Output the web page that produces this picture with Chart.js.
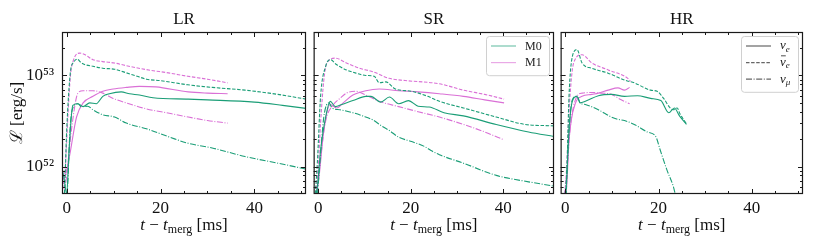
<!DOCTYPE html>
<html>
<head>
<meta charset="utf-8">
<script src="https://cdn.jsdelivr.net/npm/chart.js@4.4.0/dist/chart.umd.min.js"></script>
<style>
body { margin: 0; background: #fff; }
#wrap { position: relative; width: 814px; height: 245px; }
canvas { position: absolute; top: 0; }
</style>
</head>
<body>
<div id="wrap">
  <canvas id="cLR" width="310" height="245" style="left:0px"></canvas>
  <canvas id="cSR" width="247" height="245" style="left:310px"></canvas>
  <canvas id="cHR" width="257" height="245" style="left:557px"></canvas>
</div>
<script>
// luminosities in units of 1e52 erg/s, [t - t_merg (ms), L]
var LR_M0_nue  = [[-1,1.0],[-0.5,0.7],[0,0.5],[0.5,1.5],[1.3,4.7],[2.4,4.9],[3.5,4.55],[4.9,5.0],[6.3,4.9],[7.7,5.9],[9.1,6.3],[11.6,6.6],[13.4,6.3],[15.5,6.1],[18.4,5.7],[25.9,5.5],[30,5.4],[40,5.1],[46,4.7],[51,4.35]];
var LR_M0_anue = [[-1,0.4],[-0.5,0.5],[0,2.5],[0.8,11],[1.5,14],[2.2,15.1],[3.1,13.8],[4,13.1],[5.6,12.6],[7.7,12],[10.2,11.7],[12.7,10.7],[15,9.8],[17,9.1],[19.8,8.8],[25.8,7.9],[31,7.4],[38,6.9],[45,6.2],[51,5.5]];
var LR_M0_numu = [[-0.5,0.3],[0.2,0.6],[0.7,2.5],[1.3,4.4],[2.4,4.9],[3.1,4.55],[4.5,4.6],[5.6,4.2],[7.7,3.7],[10.2,3.5],[12.7,3.0],[17,2.6],[22,2.1],[25.9,1.8],[31,1.6],[38,1.29],[45,1.09],[51,0.94]];
var LR_M1_nue  = [[-1,0.7],[-0.3,0.8],[0.6,1.3],[2.1,3.5],[3.5,5.0],[5.6,5.9],[7.7,6.7],[9.9,7.1],[12.7,7.4],[15.5,7.6],[19,7.5],[25.9,6.6],[30,6.4],[34.3,6.3]];
var LR_M1_anue = [[-1,0.5],[-0.3,1.0],[0.3,4],[0.8,10],[1.5,15],[2.8,17.6],[3.8,17],[5.6,14.9],[7.7,14.2],[10.2,13.7],[12.7,12.8],[17,11.6],[22,10.6],[25.8,9.8],[30,9.1],[34.3,8.3]];
var LR_M1_numu = [[-0.8,0.4],[0,0.8],[1,2.5],[2.4,6.4],[3.5,6.8],[5.6,6.8],[7.7,6.4],[9.9,5.6],[12.7,5.0],[17,4.3],[21.2,3.9],[25.9,3.5],[30,3.2],[34.3,3.0]];

var SR_M0_nue  = [[-1,0.4],[-0.2,0.6],[0.5,1.5],[1.6,3.5],[2.6,5.2],[3.7,4.55],[5.1,4.8],[7.5,5.3],[10.3,5.9],[11.4,5.9],[13.5,5.1],[15.4,5.8],[17.4,4.9],[19.5,5.3],[21.6,4.6],[24,4.5],[27.2,3.9],[31.4,3.6],[38.5,2.9],[45.5,2.4],[51,2.14]];
var SR_M0_anue = [[-1,0.3],[-0.2,1.1],[0.5,5.9],[1.6,12.6],[2.6,14.9],[4,13.1],[6.1,11.5],[8.2,10.6],[10.3,10],[12.1,9.8],[13.2,8.3],[14.6,8.5],[16.7,7.1],[20.2,6.7],[23.7,5.9],[26.2,5.2],[31.4,4.4],[38.5,3.5],[44.8,2.9],[51,2.8]];
var SR_M0_numu = [[-0.5,0.3],[0.3,1.0],[1.2,3.5],[2.3,5.0],[3,4.4],[4.7,4.2],[7.5,3.9],[9.6,3.6],[11.8,3.25],[13.9,2.75],[15.3,2.5],[17.4,2.1],[20.2,1.88],[23,1.66],[24.4,1.5],[26.2,1.35],[31.4,1.09],[38.5,0.8],[45.5,0.68],[51,0.61]];
var SR_M1_nue  = [[-1,0.3],[0.2,0.8],[1.2,2.5],[2.6,4.8],[4,4.4],[5.4,5.0],[7.5,6.1],[10.3,6.8],[13.2,7.1],[17.4,6.8],[21.6,6.6],[26.2,6.3],[31.4,5.9],[36,5.4],[40.2,5.0]];
var SR_M1_anue = [[-1,0.3],[0,1],[0.5,3.0],[1.2,8.9],[1.9,13.8],[3.7,15.5],[6.1,13.7],[8.9,12],[11.8,11],[15.3,9.3],[18.8,8.8],[26.2,8.1],[31.4,6.9],[36,6.2],[40.2,5.5]];
var SR_M1_numu = [[-0.8,0.3],[0.3,1.0],[1.5,3.0],[3.3,4.8],[4.7,5.6],[6.1,6.4],[8.2,6.7],[10.3,6.1],[13.2,5.2],[17.4,4.55],[21.6,4.0],[26.2,3.5],[31.4,2.9],[36,2.4],[40.2,1.96]];

var HR_M0_nue  = [[-0.5,0.3],[0.2,0.6],[0.8,2.5],[1.5,5.2],[2.5,5.9],[3.2,5.0],[4.3,5.2],[7.1,6.0],[9.9,6.2],[12.7,5.9],[15.5,6.0],[18.3,5.6],[20.5,5.3],[22.2,3.9],[23.4,4.4],[24.5,3.6],[26,2.9]];
var HR_M0_anue = [[-0.5,0.3],[0.2,0.5],[0.4,1.1],[0.8,5.9],[1.5,16],[2.5,19.2],[3.6,13.7],[5.7,12],[9.2,10.6],[12.7,8.9],[14.8,8.3],[18.3,6.9],[19.7,6.7],[21.1,5.6],[22.5,4.4],[23.2,4.2],[24,4.4],[24.6,3.8],[25.7,3.1],[26,2.95]];
var HR_M0_numu = [[-0.5,0.3],[0.3,0.8],[0.8,2.5],[1.5,5.4],[2.5,5.9],[3.2,5.0],[4.3,4.8],[7.1,4.2],[9.9,3.5],[11.3,3.3],[12.7,3.2],[14.8,2.9],[17.6,2.4],[19.4,2.14],[20.4,1.5],[21.8,0.92],[23.2,0.6],[23.8,0.45]];
var HR_M1_nue  = [[-0.5,0.3],[0.3,0.6],[0.8,1.95],[2.2,5.0],[3.6,5.9],[5.7,6.2],[7.1,6.4],[9.2,6.9],[11.3,7.3],[12.7,6.9],[13.8,7.4]];
var HR_M1_anue = [[-0.5,0.3],[0.3,1.0],[0.8,4],[1.8,13.8],[3.6,16.9],[5.7,13.7],[9.2,11.5],[13.4,9.3],[14,8.6]];
var HR_M1_numu = [[-0.5,0.3],[0.3,0.8],[1,2.5],[2.5,5.9],[3.6,6.4],[5.7,6.5],[7.8,6.4],[9.9,6.2],[12,5.4],[13.8,4.9]];

var xMajor = [0, 20, 40];
var yMajor = [1, 10];
var yLabels = {1: '10\u2075\u00b2', 10: '10\u2075\u00b3'};
var models = ['M0', 'M1'];
var species = ['\u03bd_e', '\u0304\u03bd_e', '\u03bd_\u03bc'];

var FONT = "'Liberation Serif','DejaVu Serif',serif";
var FS = 17;
var GREEN = '#1b9e77';
var PINK = '#da70d6';
var DASHES = [[], [3.5, 1.6], [6, 1.6, 1, 1.6]];

function mkSet(arr, color, dash) {
    return {
        data: arr.map(function (p) { return {x: p[0], y: p[1]}; }),
        borderColor: color,
        borderWidth: 1.1,
        borderDash: dash,
        pointRadius: 0,
        fill: false,
        cubicInterpolationMode: 'monotone'
    };
}

// draws a string with "_" subscript parts, e.g. "ν_e"
function drawSub(ctx, str, x, y, size, italicMain) {
    var parts = str.split('_');
    var main = parts[0], sub = parts[1] || '';
    var bar = false;
    if (main.charAt(0) === '\u0304') { bar = true; main = main.slice(1); }
    ctx.font = (italicMain ? 'italic ' : '') + size + 'px ' + FONT;
    ctx.fillText(main, x, y);
    var w = ctx.measureText(main).width;
    if (bar) { ctx.fillRect(x + 1, y - size * 0.55, w - 1, 0.8); }
    ctx.font = 'italic ' + Math.round(size * 0.72) + 'px ' + FONT;
    ctx.fillText(sub, x + w, y + size * 0.25);
}

var framePlugin = {
    id: 'frame',
    afterDraw: function (chart, args, o) {
        var ctx = chart.ctx, a = chart.chartArea;
        var xs = chart.scales.x, ys = chart.scales.y;
        ctx.save();
        ctx.strokeStyle = '#1a1a1a';
        ctx.lineWidth = 1.2;
        ctx.strokeRect(a.left + 0.5, a.top + 0.5, a.right - a.left - 1, a.bottom - a.top - 1);
        ctx.lineWidth = 1;
        ctx.beginPath();
        for (var v = 0; v <= 50; v += 5) {
            var px = Math.round(xs.getPixelForValue(v)) + 0.5;
            var len = xMajor.indexOf(v) >= 0 ? 5 : 3;
            ctx.moveTo(px, a.bottom); ctx.lineTo(px, a.bottom - len);
            ctx.moveTo(px, a.top); ctx.lineTo(px, a.top + len);
        }
        var yt = [0.6, 0.7, 0.8, 0.9, 1, 2, 3, 4, 5, 6, 7, 8, 9, 10, 20];
        yt.forEach(function (t) {
            var py = Math.round(ys.getPixelForValue(t)) + 0.5;
            var len = yMajor.indexOf(t) >= 0 ? 5 : 3;
            ctx.moveTo(a.left, py); ctx.lineTo(a.left + len, py);
            ctx.moveTo(a.right, py); ctx.lineTo(a.right - len, py);
        });
        ctx.stroke();

        // panel title
        ctx.fillStyle = '#111';
        ctx.textAlign = 'center';
        ctx.textBaseline = 'alphabetic';
        ctx.font = FS + 'px ' + FONT;
        var cx = (a.left + a.right) / 2;
        ctx.fillText(o.title, cx, 24);

        // x axis title: t - t_merg [ms]
        var pieces = [
            {t: 't', f: 'italic ' + FS + 'px ', dy: 0},
            {t: ' \u2212 ', f: FS + 'px ', dy: 0},
            {t: 't', f: 'italic ' + FS + 'px ', dy: 0},
            {t: 'merg', f: '12px ', dy: 3},
            {t: ' [ms]', f: FS + 'px ', dy: 0}
        ];
        var tw = 0;
        pieces.forEach(function (p) { ctx.font = p.f + FONT; p.w = ctx.measureText(p.t).width; tw += p.w; });
        var x0 = cx - tw / 2;
        ctx.textAlign = 'left';
        pieces.forEach(function (p) { ctx.font = p.f + FONT; ctx.fillText(p.t, x0, 230 + p.dy); x0 += p.w; });

        if (o.ylabel) {
            ctx.save();
            ctx.translate(18, (a.top + a.bottom) / 2);
            ctx.rotate(-Math.PI / 2);
            ctx.textAlign = 'center';
            ctx.textBaseline = 'middle';
            ctx.font = FS + 'px ' + FONT;
            ctx.fillText('\u2112 [erg/s]', 0, 0);
            ctx.restore();
        }

        // legend box
        if (o.legend) {
            var L = o.legend;
            var rowH = 16.6;
            var bw = L.width, bh = 10 + rowH * L.items.length - 4;
            var bx = a.right - 5 - bw, by = a.top + 4;
            ctx.fillStyle = 'rgba(255,255,255,0.85)';
            ctx.strokeStyle = '#d0d0d0';
            ctx.lineWidth = 1;
            ctx.beginPath();
            ctx.roundRect(bx + 0.5, by + 0.5, bw, bh, 3);
            ctx.fill();
            ctx.stroke();
            L.items.forEach(function (it, i) {
                var ly = by + 10 + rowH * i;
                ctx.strokeStyle = it.color;
                ctx.lineWidth = 1.2;
                ctx.setLineDash(it.dash);
                ctx.beginPath();
                ctx.moveTo(bx + 5, ly); ctx.lineTo(bx + 30, ly);
                ctx.stroke();
                ctx.setLineDash([]);
                ctx.fillStyle = '#222';
                ctx.textAlign = 'left';
                ctx.textBaseline = 'middle';
                if (it.sub) {
                    drawSub(ctx, it.label, bx + 39, ly, 13, true);
                } else {
                    ctx.font = '12px ' + FONT;
                    ctx.fillText(it.label, bx + 39, ly + 0.5);
                }
            });
        }
        ctx.restore();
    }
};

function makePanel(id, title, sets, pad, showY, legend) {
    var ds = [
        mkSet(sets[0], GREEN, DASHES[0]), mkSet(sets[1], GREEN, DASHES[1]), mkSet(sets[2], GREEN, DASHES[2]),
        mkSet(sets[3], PINK, DASHES[0]), mkSet(sets[4], PINK, DASHES[1]), mkSet(sets[5], PINK, DASHES[2])
    ];
    return new Chart(document.getElementById(id), {
        type: 'line',
        data: {datasets: ds},
        plugins: [framePlugin],
        options: {
            responsive: false,
            animation: false,
            devicePixelRatio: 1,
            layout: {padding: {top: 32, left: pad[0], right: pad[1], bottom: 0}},
            plugins: {
                legend: {display: false},
                tooltip: {enabled: false},
                frame: {title: title, ylabel: showY, legend: legend}
            },
            scales: {
                x: {
                    type: 'linear', min: -1, max: 51,
                    grid: {display: false, drawTicks: false},
                    border: {display: false},
                    afterBuildTicks: function (s) { s.ticks = xMajor.map(function (v) { return {value: v}; }); },
                    afterFit: function (s) { s.height = 51; },
                    ticks: {color: '#111', font: {family: FONT, size: FS}, padding: 4, maxRotation: 0, autoSkip: false}
                },
                y: {
                    type: 'logarithmic', min: 0.5, max: 30,
                    display: showY,
                    grid: {display: false, drawTicks: false},
                    border: {display: false},
                    afterBuildTicks: function (s) { s.ticks = yMajor.map(function (v) { return {value: v}; }); },
                    afterFit: function (s) { s.width = showY ? 62 : 0; },
                    ticks: {
                        color: '#111', font: {family: FONT, size: FS}, padding: 8, autoSkip: false,
                        callback: function (v) { return yLabels[v] || ''; }
                    }
                }
            }
        }
    });
}

makePanel('cLR', 'LR', [LR_M0_nue, LR_M0_anue, LR_M0_numu, LR_M1_nue, LR_M1_anue, LR_M1_numu], [0, 4], true, null);
makePanel('cSR', 'SR', [SR_M0_nue, SR_M0_anue, SR_M0_numu, SR_M1_nue, SR_M1_anue, SR_M1_numu], [1, 3], false, {
    width: 63,
    items: [
        {label: models[0], color: 'rgba(27,158,119,0.6)', dash: []},
        {label: models[1], color: 'rgba(218,112,214,0.6)', dash: []}
    ]
});
makePanel('cHR', 'HR', [HR_M0_nue, HR_M0_anue, HR_M0_numu, HR_M1_nue, HR_M1_anue, HR_M1_numu], [2, 11], false, {
    width: 57,
    items: [
        {label: species[0], color: '#666', dash: DASHES[0], sub: true},
        {label: species[1], color: '#666', dash: DASHES[1], sub: true},
        {label: species[2], color: '#666', dash: DASHES[2], sub: true}
    ]
});
</script>
</body>
</html>
